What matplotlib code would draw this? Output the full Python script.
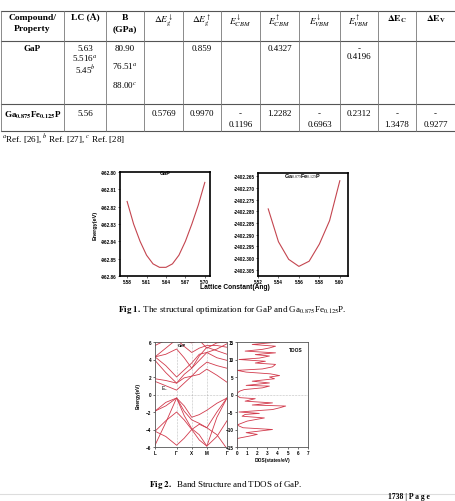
import numpy as np
import matplotlib.pyplot as plt

plt.rcParams['mathtext.fontset'] = 'stix'

W, H = 456, 502

# ---- table data ----
headers = ['Compound/\nProperty', 'LC (Å)', 'B\n(GPa)',
           r'$\Delta E_g^{\downarrow}$', r'$\Delta E_g^{\uparrow}$',
           r'$E_{CBM}^{\downarrow}$', r'$E_{CBM}^{\uparrow}$',
           r'$E_{VBM}^{\downarrow}$', r'$E_{VBM}^{\uparrow}$',
           r'$\mathbf{\Delta E_C}$', r'$\mathbf{\Delta E_V}$']
row_gap = ['GaP', '5.63\n5.516$^a$\n5.45$^b$', '80.90\n\n76.51$^a$\n\n88.00$^c$',
           '', '0.859', '', '0.4327', '', '-\n0.4196', '', '']
row_gafe = [r'Ga$_{\mathbf{0.875}}$Fe$_{\mathbf{0.125}}$P', '5.56', '', '0.5769', '0.9970',
            '-\n0.1196', '1.2282', '-\n0.6963', '0.2312', '-\n1.3478', '-\n0.9277']
footnote = r'$^a$Ref. [26], $^b$ Ref. [27], $^c$ Ref. [28]'

# ---- fig 1 data ----
lc_gap = [5.58, 5.59, 5.60, 5.61, 5.62, 5.63, 5.64, 5.65, 5.66, 5.67, 5.68, 5.69, 5.70]
en_gap = [-962.817, -962.830, -962.840, -962.848, -962.853, -962.855, -962.855,
          -962.853, -962.848, -962.840, -962.830, -962.819, -962.806]
lc_gafe = [5.53, 5.54, 5.55, 5.56, 5.57, 5.58, 5.59, 5.60]
en_gafe = [-2402.279, -2402.293, -2402.3005, -2402.3035, -2402.3013, -2402.294,
           -2402.284, -2402.267]

# ---- fig 2 data ----
k_pos = [0, 0.15, 0.30, 0.405, 0.51, 0.615, 0.72, 0.86, 1.0]
k_ticks = [0, 0.30, 0.51, 0.72, 1.0]
k_labels = ['L', 'Γ', 'X', 'M', 'Γ']
bands = [
    [-1.9, -0.9, -0.4, -1.3, -2.6, -2.3, -1.8, -1.0, -0.4],
    [-1.9, -1.3, -0.4, -1.9, -2.9, -3.3, -3.8, -2.0, -0.4],
    [-5.8, -3.2, -0.4, -2.4, -3.9, -4.6, -5.9, -2.6, -0.4],
    [-4.2, -3.0, -2.0, -2.9, -4.0, -3.4, -3.8, -4.6, -6.2],
    [-4.2, -4.8, -5.8, -5.0, -4.0, -5.2, -5.9, -4.8, -3.0],
    [1.5, 1.0, 0.5, 1.3, 2.1, 2.3, 2.9, 2.2, 1.4],
    [1.8, 1.6, 1.3, 1.9, 2.1, 3.0, 3.7, 3.3, 3.0],
    [3.9, 2.5, 1.3, 2.3, 3.0, 3.9, 4.8, 4.2, 3.9],
    [4.3, 3.3, 2.0, 2.8, 3.6, 4.6, 4.8, 5.2, 5.8],
    [4.3, 4.6, 5.2, 4.2, 3.0, 4.4, 5.4, 5.0, 4.6],
    [4.3, 5.3, 6.3, 5.5, 4.8, 5.3, 5.6, 5.6, 5.4],
    [5.6, 6.2, 6.5, 6.1, 5.9, 6.2, 5.3, 5.9, 6.0],
]
dos_e = [-15.0, -12.6, -12.4, -11.9, -11.4, -10.9, -10.0, -9.5, -9.0, -8.6, -7.6,
         -6.7, -6.2, -5.7, -5.4, -5.0, -4.3, -3.8, -3.3, -3.0, -2.4, -1.9, -1.2, -0.9,
         -0.5, 0.0, 0.6, 1.0, 1.4, 1.9, 2.4, 2.6, 3.3, 3.8, 4.5, 5.0, 5.4, 5.9, 6.4,
         6.9, 7.3, 7.9, 8.6, 9.0, 9.5, 10.0, 10.4, 11.0, 11.4, 11.9, 12.4, 12.9,
         13.3, 13.8, 14.3, 15.0]
dos_v = [0.0, 0.0, 0.3, 1.2, 2.0, 0.9, 3.5, 0.6, 0.2, 0.1, 1.0,
         2.7, 0.5, 0.8, 2.2, 0.2, 3.5, 4.2, 4.8, 1.5, 3.5, 0.8, 1.8, 0.3,
         0.1, 0.0, 0.1, 0.3, 0.7, 2.5, 3.2, 0.9, 3.2, 1.5, 3.7, 3.2, 4.2, 3.3, 0.9,
         0.0, 2.5, 3.5, 3.8, 1.8, 2.8, 0.2, 2.2, 3.2, 1.8, 3.8, 0.8, 2.5,
         3.2, 3.8, 1.5, 4.2]

fig = plt.figure(figsize=(W / 100, H / 100), dpi=100)


def box(x0, y0, x1, y1):
    return [x0 / W, 1 - y1 / H, (x1 - x0) / W, (y1 - y0) / H]


page = fig.add_axes([0, 0, 1, 1])
page.set_xlim(0, W)
page.set_ylim(H, 0)
page.axis('off')

serif = 'Liberation Serif'
sans = 'Liberation Sans'

# table grid
col_x = [1, 64, 106, 144, 183, 221, 260, 299, 340, 378, 416, 455]
row_y = [12, 42, 105, 132]
for y in row_y:
    page.plot([col_x[0], col_x[-1]], [y, y], color='#555555', lw=0.8)
for x in col_x:
    page.plot([x, x], [row_y[0], row_y[-1]], color='#777777', lw=0.6)

for i, txt in enumerate(headers):
    cx = (col_x[i] + col_x[i + 1]) / 2
    page.text(cx, 14, txt, ha='center', va='top', fontsize=6.8, family=serif,
              fontweight='bold', linespacing=1.5)
for i, txt in enumerate(row_gap):
    cx = (col_x[i] + col_x[i + 1]) / 2
    page.text(cx, 45, txt, ha='center', va='top', fontsize=6.5, family=serif,
              fontweight='bold' if i == 0 else 'normal', linespacing=1.05)
for i, txt in enumerate(row_gafe):
    cx = (col_x[i] + col_x[i + 1]) / 2
    page.text(cx, 110, txt, ha='center', va='top', fontsize=6.5, family=serif,
              fontweight='bold' if i == 0 else 'normal', linespacing=1.5)
page.text(2, 139, footnote, ha='left', va='center', fontsize=6.5, family=serif)


def style_small(ax, lw=1.0, col='black'):
    for s in ax.spines.values():
        s.set_linewidth(lw)
        s.set_color(col)
    ax.tick_params(labelsize=3.3, length=1.5, width=0.4, pad=1)
    for lab in ax.get_xticklabels() + ax.get_yticklabels():
        lab.set_fontweight('bold')
        lab.set_family(sans)


# ---- fig 1 panels ----
ax1 = fig.add_axes(box(120, 173, 210, 277))
ax1.plot(lc_gap, en_gap, color='#c4454f', lw=0.8)
ax1.set_xlim(5.569, 5.708)
ax1.set_ylim(-962.86, -962.80)
ax1.set_xticks([5.58, 5.61, 5.64, 5.67, 5.70])
ax1.set_yticks([-962.80, -962.81, -962.82, -962.83, -962.84, -962.85, -962.86])
ax1.set_yticklabels(['-962.80', '-962.81', '-962.82', '-962.83', '-962.84',
                     '-962.85', '-962.86'])
ax1.set_title('GaP', fontsize=4, fontweight='bold', family=sans, y=0.9)
style_small(ax1, 1.2)
ax1.set_ylabel('Energy(eV)', fontsize=4, fontweight='bold', family=sans, labelpad=2)

ax2 = fig.add_axes(box(258, 174, 348, 277))
ax2.plot(lc_gafe, en_gafe, color='#c4454f', lw=0.8)
ax2.set_xlim(5.52, 5.608)
ax2.set_ylim(-2402.3076, -2402.2637)
ax2.set_xticks([5.52, 5.54, 5.56, 5.58, 5.60])
ax2.set_yticks([-2402.265, -2402.270, -2402.275, -2402.280, -2402.285,
                -2402.290, -2402.295, -2402.300, -2402.305])
ax2.set_yticklabels(['-2402.265', '-2402.270', '-2402.275', '-2402.280', '-2402.285',
                     '-2402.290', '-2402.295', '-2402.300', '-2402.305'])
ax2.set_title(r'Ga$_{0.875}$Fe$_{0.125}$P', fontsize=4, fontweight='bold',
              family=sans, y=0.88)
style_small(ax2, 1.2)

page.text(235, 288, 'Lattice Constant(Ang)', ha='center', va='center', fontsize=4.8,
          fontweight='bold', family=sans)
page.text(232, 310, r'$\mathbf{Fig\ 1.}$ The structural optimization for GaP and '
          r'Ga$_{0.875}$Fe$_{0.125}$P.', ha='center', va='center', fontsize=6.5,
          family=serif)

# ---- fig 2 panels ----
ax3 = fig.add_axes(box(155, 343, 227, 448))
for b in bands:
    ax3.plot(k_pos, b, color='#d23a4c', lw=0.6)
for k in k_ticks[1:-1]:
    ax3.axvline(k, color='#888888', lw=0.4, ls=':')
ax3.axhline(0, color='#888888', lw=0.4, ls=':')
ax3.set_xlim(0, 1)
ax3.set_ylim(-6, 6)
ax3.set_yticks([-6, -4, -2, 0, 2, 4, 6])
ax3.set_xticks(k_ticks)
ax3.set_xticklabels(k_labels)
style_small(ax3, 0.6, '#555555')
ax3.set_ylabel('Energy(eV)', fontsize=3.5, fontweight='bold', family=sans, labelpad=4)
ax3.text(0.32, 5.5, 'GaP', fontsize=3, fontweight='bold', family=sans)
ax3.text(0.08, 0.6, r'E$_F$', fontsize=3.5, family=sans)

ax4 = fig.add_axes(box(237, 343, 308, 448))
ax4.plot(dos_v, dos_e, color='#d23a4c', lw=0.6)
ax4.axhline(0, color='#888888', lw=0.4, ls=':')
ax4.set_xlim(0, 7)
ax4.set_ylim(-15, 15)
ax4.set_xticks(range(8))
ax4.set_yticks([-15, -10, -5, 0, 5, 10, 15])
style_small(ax4, 0.6, '#555555')
ax4.set_xlabel('DOS(states/eV)', fontsize=3.5, fontweight='bold', family=sans, labelpad=1)
ax4.text(0.93, 0.95, 'TDOS', transform=ax4.transAxes, ha='right', va='top',
         fontsize=3.5, fontweight='bold', family=sans)

page.text(226, 485, r'$\mathbf{Fig\ 2.}$  Band Structure and TDOS of GaP.', ha='center',
          va='center', fontsize=6.5, family=serif)
page.plot([0, W], [495, 495], color='#dddddd', lw=0.8)
page.text(388, 501.5, '1738 | P a g e', ha='left', va='bottom', fontsize=5.5,
          family=serif, fontweight='bold')

fig.savefig('out.png', dpi=100)
